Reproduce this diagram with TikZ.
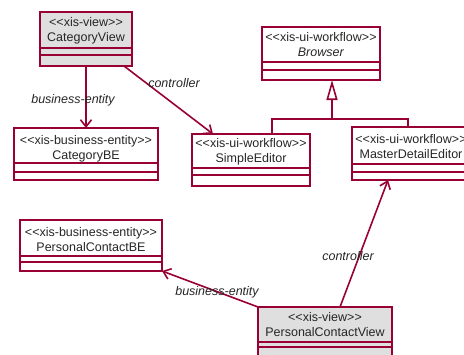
\documentclass[tikz,border=0pt]{standalone}
\usepackage{fontspec}
\setmainfont{Liberation Sans}[Ligatures=TeXOff]
\usetikzlibrary{arrows.meta}
\definecolor{umlred}{HTML}{990033}
\definecolor{umlgray}{HTML}{DFDFDF}
\begin{document}
\begin{tikzpicture}[x=1bp,y=-1bp,
 cls/.style={draw=umlred, line width=2.2bp, rectangle, inner sep=0pt, outer sep=0pt, anchor=north west},
 view/.style={cls, fill=umlgray},
 sepline/.style={draw=umlred, line width=2.2bp},
 ttl/.style={font=\fontsize{12.5bp}{15bp}\selectfont, align=center, inner sep=0pt, text=black!85},
 lbl/.style={font=\fontsize{12.5bp}{15bp}\selectfont\itshape, inner sep=0pt, text=black!85},
 assoc/.style={draw=umlred, line width=1.6bp, -{Straight Barb[length=7bp,width=11bp,line width=1.6bp]}},
 gen/.style={draw=umlred, line width=1.6bp},
 genarrow/.style={gen, -{Triangle[open,length=20bp,width=11bp,line width=1.6bp,fill=white]}},
]
\useasboundingbox (0,0) rectangle (464,354);
\clip (0,0) rectangle (464,354);

% CategoryView
\node[view, minimum width=92bp, minimum height=54bp] (cv) at (40,12) {};
\draw[sepline] ([yshift=-36bp]cv.north west) -- ([yshift=-36bp]cv.north east)
               ([yshift=-43bp]cv.north west) -- ([yshift=-43bp]cv.north east);
\node[ttl] (cvt) at (86,31) {<<xis-view>>\\CategoryView};

% CategoryBE
\node[cls, minimum width=144bp, minimum height=52bp] (cbe) at (14,128) {};
\draw[sepline] ([yshift=-35bp]cbe.north west) -- ([yshift=-35bp]cbe.north east)
               ([yshift=-44bp]cbe.north west) -- ([yshift=-44bp]cbe.north east);
\node[ttl] (cbet) at (86,149) {<<xis-business-entity>>\\CategoryBE};

% SimpleEditor
\node[cls, minimum width=118bp, minimum height=52bp] (se) at (192,134) {};
\draw[sepline] ([yshift=-34bp]se.north west) -- ([yshift=-34bp]se.north east)
               ([yshift=-41bp]se.north west) -- ([yshift=-41bp]se.north east);
\node[ttl] (set) at (251,152) {<<xis-ui-workflow>>\\SimpleEditor};

% Browser
\node[cls, minimum width=118bp, minimum height=53bp] (br) at (262,27) {};
\draw[sepline] ([yshift=-35bp]br.north west) -- ([yshift=-35bp]br.north east)
               ([yshift=-43bp]br.north west) -- ([yshift=-43bp]br.north east);
\node[ttl] (brt) at (321,45) {<<xis-ui-workflow>>\\\textit{Browser}};

% MasterDetailEditor
\node[cls, minimum width=118bp, minimum height=53bp] (mde) at (352,127) {};
\draw[sepline] ([yshift=-37bp]mde.north west) -- ([yshift=-37bp]mde.north east)
               ([yshift=-45bp]mde.north west) -- ([yshift=-45bp]mde.north east);
\node[ttl] (mdet) at (411,147) {<<xis-ui-workflow>>\\MasterDetailEditor};

% PersonalContactBE
\node[cls, minimum width=142bp, minimum height=51bp] (pbe) at (20,220) {};
\draw[sepline] ([yshift=-36bp]pbe.north west) -- ([yshift=-36bp]pbe.north east)
               ([yshift=-42bp]pbe.north west) -- ([yshift=-42bp]pbe.north east);
\node[ttl] (pbet) at (91,240) {<<xis-business-entity>>\\PersonalContactBE};

% PersonalContactView
\node[view, minimum width=134bp, minimum height=64bp] (pcv) at (258,307) {};
\draw[sepline] ([yshift=-35bp]pcv.north west) -- ([yshift=-35bp]pcv.north east)
               ([yshift=-40bp]pcv.north west) -- ([yshift=-40bp]pcv.north east);
\node[ttl] (pcvt) at (325,325) {<<xis-view>>\\PersonalContactView};

% associations
\draw[assoc] (cv.south) -- (cbe.north);
\node[lbl] (l1) at (73,100) {business-entity};
\draw[assoc] ([xshift=-8bp]cv.south east) -- ([xshift=21bp]se.north west);
\node[lbl] (l2) at (174,83) {controller};
\draw[assoc] ([xshift=82bp]pcv.north west) -- ([xshift=36bp]mde.south west);
\node[lbl] (l3) at (348,256) {controller};
\draw[assoc] (pcv.north west) -- (pbe.south east);
\node[lbl] (l4) at (217,292) {business-entity};

% generalization
\coordinate (j) at (332,119);
\draw[gen] ([xshift=80bp]se.north west) |- (j) -| ([xshift=56bp]mde.north west);
\draw[genarrow] (j) -- ([xshift=70bp]br.south west);
\end{tikzpicture}
\end{document}
